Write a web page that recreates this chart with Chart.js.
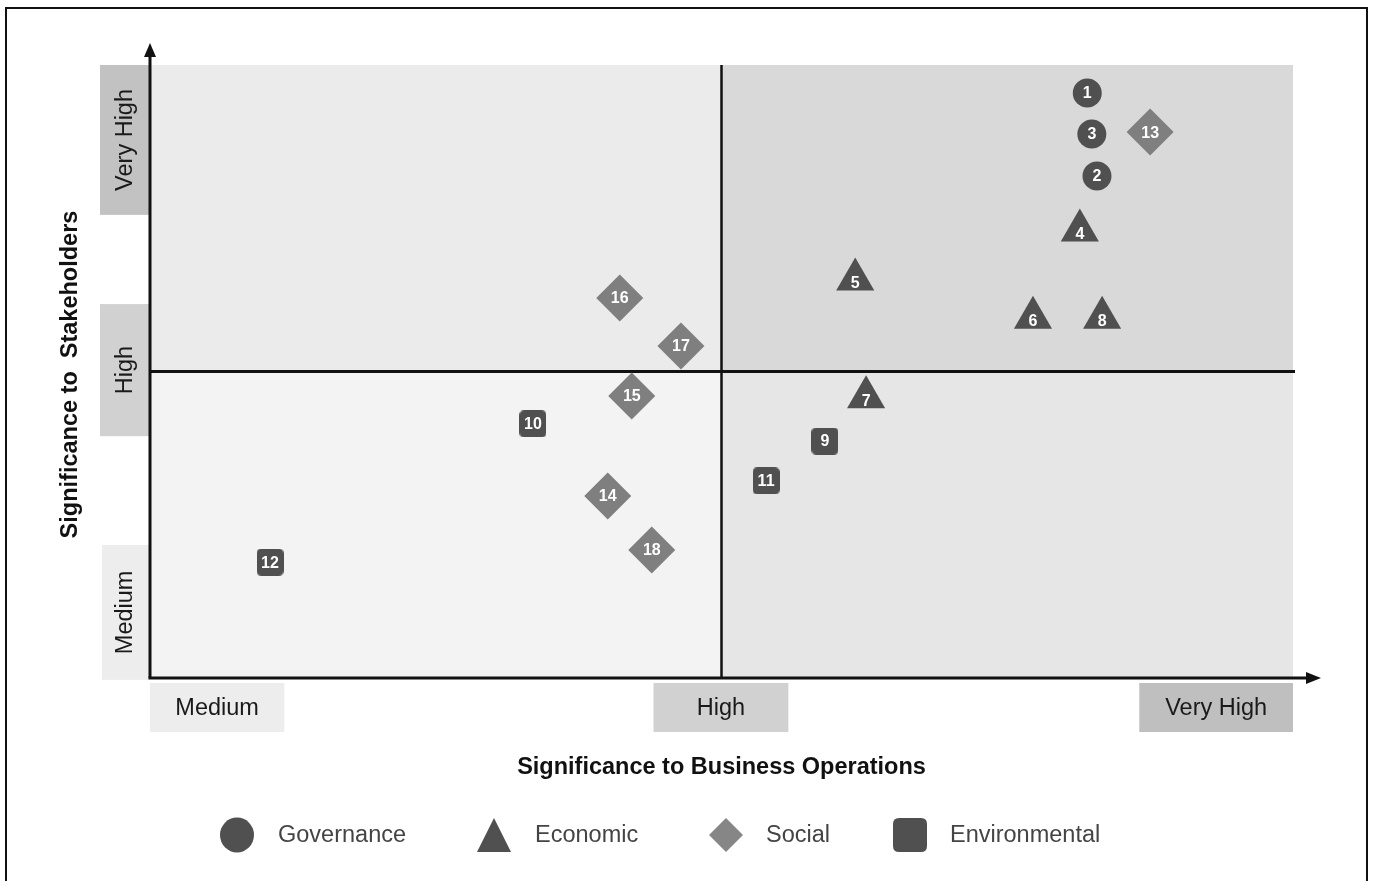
<!DOCTYPE html>
<html>
<head>
<meta charset="utf-8">
<title>Materiality Matrix</title>
<script src="https://cdn.jsdelivr.net/npm/chart.js@4.4.0/dist/chart.umd.min.js"></script>
<style>
  html, body { margin: 0; padding: 0; background: #ffffff; }
  canvas { display: block; }
</style>
</head>
<body>
<canvas id="matrix" width="1373" height="881"></canvas>
<script>
// Issue categories (legend order)
const categories = ['Governance', 'Economic', 'Social', 'Environmental'];

// Scale: 0 = Medium, 1 = High threshold, 2 = Very High
const governanceIds = [1, 2, 3];
const governanceBusiness = [1.640, 1.657, 1.648];
const governanceStakeholders = [1.909, 1.638, 1.775];

const economicIds = [4, 5, 6, 7, 8];
const economicBusiness = [1.627, 1.234, 1.545, 1.253, 1.666];
const economicStakeholders = [1.460, 1.300, 1.175, 0.916, 1.175];

const socialIds = [13, 14, 15, 16, 17, 18];
const socialBusiness = [1.750, 0.801, 0.843, 0.822, 0.929, 0.878];
const socialStakeholders = [1.781, 0.594, 0.920, 1.240, 1.083, 0.418];

const environmentalIds = [9, 10, 11, 12];
const environmentalBusiness = [1.181, 0.670, 1.078, 0.210];
const environmentalStakeholders = [0.773, 0.829, 0.643, 0.378];

// Level tick labels along both axes
const levelLabels = ['Medium', 'High', 'Very High'];
const xLevelRanges = [[0, 0.235], [0.881, 1.117], [1.731, 2.0]];
const yLevelRanges = [[-0.006, 0.434], [0.789, 1.220], [1.511, 2.0]];

const xTitle = 'Significance to Business Operations';
const yTitle = 'Significance to  Stakeholders';

const FONT = '"Liberation Sans", Arial, Helvetica, sans-serif';
const DARK = '#505050';
const MID = '#7f7f7f';

function toPoints(ids, xs, ys) {
  return ids.map((id, i) => ({ x: xs[i], y: ys[i], id: id }));
}

function roundRectPath(ctx, x, y, w, h, r) {
  ctx.beginPath();
  ctx.moveTo(x + r, y);
  ctx.lineTo(x + w - r, y);
  ctx.quadraticCurveTo(x + w, y, x + w, y + r);
  ctx.lineTo(x + w, y + h - r);
  ctx.quadraticCurveTo(x + w, y + h, x + w - r, y + h);
  ctx.lineTo(x + r, y + h);
  ctx.quadraticCurveTo(x, y + h, x, y + h - r);
  ctx.lineTo(x, y + r);
  ctx.quadraticCurveTo(x, y, x + r, y);
  ctx.closePath();
}

// Rounded square marker used for environmental issues
function roundedSquareStyle(size, radius, color) {
  const c = document.createElement('canvas');
  c.width = size; c.height = size;
  const g = c.getContext('2d');
  g.fillStyle = color;
  roundRectPath(g, 0, 0, size, size, radius);
  g.fill();
  return c;
}

const squareStyle = roundedSquareStyle(27, 5, DARK);

const backdrop = {
  id: 'backdrop',
  beforeDraw(chart) {
    const { ctx, chartArea: a, scales } = chart;
    const xs = scales.x, ys = scales.y;
    const mx = xs.getPixelForValue(1), my = ys.getPixelForValue(1);
    ctx.save();
    ctx.fillStyle = '#ffffff';
    ctx.fillRect(0, 0, chart.width, chart.height);

    // outer frame
    ctx.strokeStyle = '#111';
    ctx.lineWidth = 2;
    ctx.strokeRect(6, 8, 1361, 890);

    // quadrants
    ctx.fillStyle = '#ebebeb'; ctx.fillRect(a.left, a.top, mx - a.left, my - a.top);
    ctx.fillStyle = '#d9d9d9'; ctx.fillRect(mx, a.top, a.right - mx, my - a.top);
    ctx.fillStyle = '#f3f3f3'; ctx.fillRect(a.left, my, mx - a.left, a.bottom - my);
    ctx.fillStyle = '#e6e6e6'; ctx.fillRect(mx, my, a.right - mx, a.bottom - my);

    // level boxes on the y axis
    const yFills = ['#ededed', '#d1d1d1', '#c2c2c2'];
    ctx.font = '23.5px ' + FONT;
    ctx.textAlign = 'center';
    ctx.textBaseline = 'middle';
    yLevelRanges.forEach((r, i) => {
      const t = ys.getPixelForValue(r[1]), b = ys.getPixelForValue(r[0]);
      const left = i === 0 ? a.left - 48 : a.left - 50;
      ctx.fillStyle = yFills[i];
      ctx.fillRect(left, t, a.left - left, b - t);
      ctx.save();
      ctx.translate(a.left - 25, (t + b) / 2);
      ctx.rotate(-Math.PI / 2);
      ctx.fillStyle = '#1a1a1a';
      ctx.fillText(levelLabels[i], 0, 1);
      ctx.restore();
    });

    // level boxes on the x axis
    const xFills = ['#ededed', '#d1d1d1', '#bfbfbf'];
    xLevelRanges.forEach((r, i) => {
      const l = xs.getPixelForValue(r[0]), rr = xs.getPixelForValue(r[1]);
      ctx.fillStyle = xFills[i];
      ctx.fillRect(l, a.bottom + 5, rr - l, 49);
      ctx.fillStyle = '#1a1a1a';
      ctx.fillText(levelLabels[i], (l + rr) / 2, a.bottom + 31);
    });

    // axis titles
    ctx.font = 'bold 23.5px ' + FONT;
    ctx.fillStyle = '#111';
    ctx.fillText(xTitle, mx, a.bottom + 90);
    ctx.save();
    ctx.translate(71, my + 3);
    ctx.rotate(-Math.PI / 2);
    ctx.fillText(yTitle, 0, 0);
    ctx.restore();

    // legend
    const ly = 835;
    ctx.font = '23.5px ' + FONT;
    ctx.textAlign = 'left';
    ctx.fillStyle = DARK;
    ctx.beginPath(); ctx.ellipse(237, ly, 17, 17.5, 0, 0, Math.PI * 2); ctx.fill();
    ctx.beginPath(); ctx.moveTo(494, ly - 17); ctx.lineTo(511, ly + 17); ctx.lineTo(477, ly + 17); ctx.closePath(); ctx.fill();
    ctx.fillStyle = '#868686';
    ctx.beginPath(); ctx.moveTo(726, ly - 17); ctx.lineTo(743, ly); ctx.lineTo(726, ly + 17); ctx.lineTo(709, ly); ctx.closePath(); ctx.fill();
    ctx.fillStyle = DARK;
    roundRectPath(ctx, 893, ly - 17, 34, 34, 6); ctx.fill();
    ctx.fillStyle = '#444';
    const lx = [278, 535, 766, 950];
    categories.forEach((c, i) => ctx.fillText(c, lx[i], ly + 1));
    ctx.restore();
  },
  beforeDatasetsDraw(chart) {
    const { ctx, chartArea: a, scales } = chart;
    const mx = scales.x.getPixelForValue(1), my = scales.y.getPixelForValue(1);
    ctx.save();
    ctx.strokeStyle = '#111';
    ctx.fillStyle = '#111';
    // quadrant dividers
    ctx.lineWidth = 2.5;
    ctx.beginPath(); ctx.moveTo(mx, a.top); ctx.lineTo(mx, a.bottom); ctx.stroke();
    ctx.lineWidth = 3;
    ctx.beginPath(); ctx.moveTo(a.left, my); ctx.lineTo(a.right + 2, my); ctx.stroke();
    // axes with arrows
    ctx.beginPath(); ctx.moveTo(a.left, a.bottom); ctx.lineTo(a.left, a.top - 10); ctx.stroke();
    ctx.beginPath(); ctx.moveTo(a.left - 1.5, a.bottom); ctx.lineTo(a.right + 16, a.bottom); ctx.stroke();
    ctx.beginPath(); ctx.moveTo(a.left, a.top - 22); ctx.lineTo(a.left + 6, a.top - 8); ctx.lineTo(a.left - 6, a.top - 8); ctx.closePath(); ctx.fill();
    ctx.beginPath(); ctx.moveTo(a.right + 28, a.bottom); ctx.lineTo(a.right + 13, a.bottom - 6); ctx.lineTo(a.right + 13, a.bottom + 6); ctx.closePath(); ctx.fill();
    ctx.restore();
  },
  afterDatasetsDraw(chart) {
    const { ctx } = chart;
    ctx.save();
    ctx.fillStyle = '#ffffff';
    ctx.font = 'bold 16px ' + FONT;
    ctx.textAlign = 'center';
    ctx.textBaseline = 'middle';
    chart.data.datasets.forEach((ds, di) => {
      const meta = chart.getDatasetMeta(di);
      meta.data.forEach((el, i) => {
        const dy = ds.pointStyle === 'triangle' ? 3 : 0;
        ctx.fillText(String(ds.data[i].id), el.x, el.y + dy + 1);
      });
    });
    ctx.restore();
  }
};

new Chart(document.getElementById('matrix'), {
  type: 'scatter',
  data: {
    datasets: [
      { label: categories[0], data: toPoints(governanceIds, governanceBusiness, governanceStakeholders),
        pointStyle: 'circle', pointRadius: 14.5, backgroundColor: DARK, borderWidth: 0 },
      { label: categories[1], data: toPoints(economicIds, economicBusiness, economicStakeholders),
        pointStyle: 'triangle', pointRadius: 22, backgroundColor: DARK, borderWidth: 0 },
      { label: categories[2], data: toPoints(socialIds, socialBusiness, socialStakeholders),
        pointStyle: 'rectRot', pointRadius: 23.5, backgroundColor: MID, borderWidth: 0 },
      { label: categories[3], data: toPoints(environmentalIds, environmentalBusiness, environmentalStakeholders),
        pointStyle: squareStyle, pointRadius: 13, backgroundColor: DARK, borderWidth: 0 }
    ]
  },
  options: {
    responsive: false,
    animation: false,
    events: [],
    layout: { padding: { left: 150, right: 80, top: 65, bottom: 203 } },
    scales: {
      x: { type: 'linear', min: 0, max: 2, display: false },
      y: { type: 'linear', min: 0, max: 2, display: false }
    },
    plugins: {
      legend: { display: false },
      tooltip: { enabled: false }
    }
  },
  plugins: [backdrop]
});
</script>
</body>
</html>
